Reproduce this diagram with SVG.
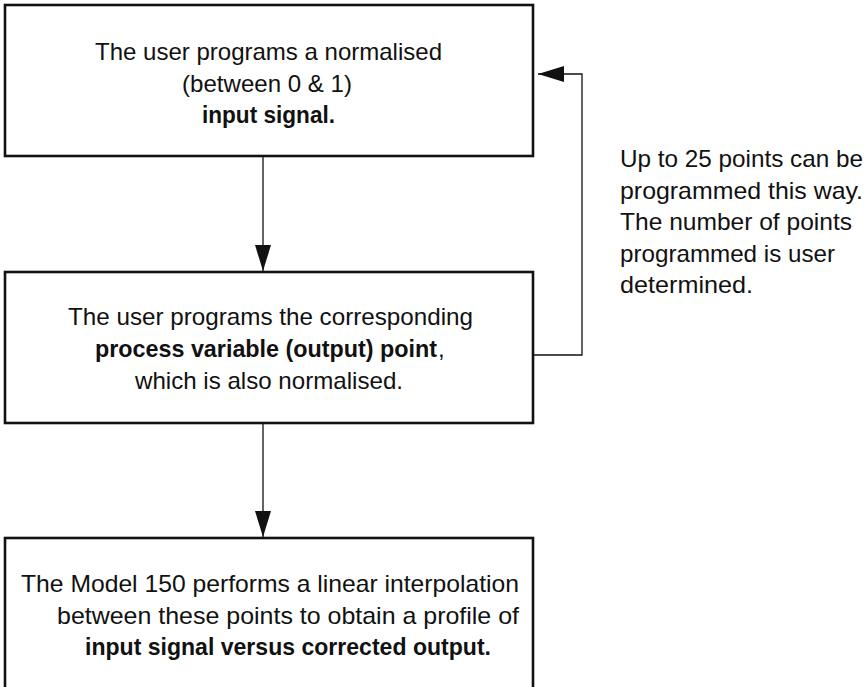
<svg xmlns="http://www.w3.org/2000/svg" width="868" height="687" viewBox="0 0 868 687">
<style>
.box{fill:#fff;stroke:#111;stroke-width:2.6}
.t{font-family:"Liberation Sans",Arial,sans-serif;font-size:24px;fill:#111}
.b{font-weight:bold}
.c{fill:none;stroke:#111;stroke-width:1.3}
</style>
<defs>
<marker id="ah" markerUnits="userSpaceOnUse" markerWidth="26" markerHeight="16" refX="26" refY="8" orient="auto">
<path d="M0,0 L26,8 L0,16 Z" fill="#111"/>
</marker>
</defs>
<rect width="868" height="687" fill="#fff"/>
<g id="connectors">
<line class="c" x1="263" y1="156" x2="263" y2="271" marker-end="url(#ah)"/>
<line class="c" x1="263" y1="423" x2="263" y2="537" marker-end="url(#ah)"/>
<polyline class="c" points="534,355 582,355 582,74 538,74" marker-end="url(#ah)"/>
</g>
<g id="node1">
<rect class="box" x="5" y="5" width="528" height="151"/>
<text class="t" x="95" y="60" textLength="347" lengthAdjust="spacingAndGlyphs">The user programs a normalised</text>
<text class="t" x="182" y="91.5" textLength="170" lengthAdjust="spacingAndGlyphs">(between 0 &amp; 1)</text>
<text class="t b" x="202" y="123" textLength="133" lengthAdjust="spacingAndGlyphs">input signal.</text>
</g>
<g id="node2">
<rect class="box" x="5" y="272" width="528" height="151"/>
<text class="t" x="68" y="325" textLength="405" lengthAdjust="spacingAndGlyphs">The user programs the corresponding</text>
<text class="t b" x="95" y="357" textLength="342" lengthAdjust="spacingAndGlyphs">process variable (output) point</text>
<text class="t" x="438" y="357">,</text>
<text class="t" x="135" y="389" textLength="268" lengthAdjust="spacingAndGlyphs">which is also normalised.</text>
</g>
<g id="node3">
<rect class="box" x="5" y="538" width="528" height="170"/>
<text class="t" x="21" y="592" textLength="498" lengthAdjust="spacingAndGlyphs">The Model 150 performs a linear interpolation</text>
<text class="t" x="57" y="623.5" textLength="462" lengthAdjust="spacingAndGlyphs">between these points to obtain a profile of</text>
<text class="t b" x="85" y="655" textLength="406" lengthAdjust="spacingAndGlyphs">input signal versus corrected output.</text>
</g>
<g id="note">
<text class="t" x="620" y="167" textLength="243" lengthAdjust="spacingAndGlyphs">Up to 25 points can be</text>
<text class="t" x="620" y="198.5" textLength="243" lengthAdjust="spacingAndGlyphs">programmed this way.</text>
<text class="t" x="620" y="230" textLength="232" lengthAdjust="spacingAndGlyphs">The number of points</text>
<text class="t" x="620" y="261.5" textLength="215" lengthAdjust="spacingAndGlyphs">programmed is user</text>
<text class="t" x="620" y="293" textLength="133" lengthAdjust="spacingAndGlyphs">determined.</text>
</g>
</svg>
